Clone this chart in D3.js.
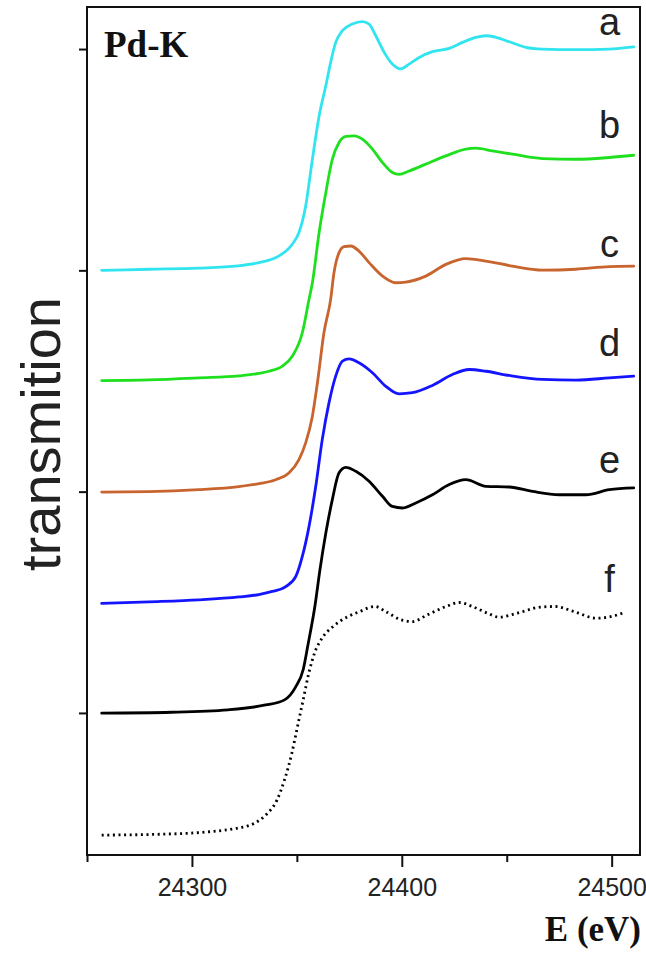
<!DOCTYPE html>
<html>
<head>
<meta charset="utf-8">
<script src="https://cdn.jsdelivr.net/npm/d3@7/dist/d3.min.js"></script>
<style>
  html, body { margin: 0; padding: 0; background: #fff; }
  svg { display: block; }
</style>
</head>
<body>
<svg id="chart" width="646" height="953"></svg>
<script>
// ---------------- DATA ----------------
const seriesNames = ["a", "b", "c", "d", "e", "f"];
const xMajorTicks = [24300, 24400, 24500];
const xMinorTicks = [24250, 24350, 24450];
const yTicks = [1, 2, 3, 4];

const energyA = [24257, 24280, 24303, 24322, 24332, 24341.5, 24347.8, 24351, 24354.2, 24357.4, 24360.6, 24363.8, 24366.1, 24368.5, 24371.7, 24376.4, 24381.2, 24384.4, 24387.6, 24391.6, 24395.5, 24399.5, 24403.5, 24408.3, 24414.6, 24422.6, 24428.9, 24435.3, 24440.1, 24444.8, 24451.2, 24459.1, 24467, 24483, 24498.9, 24510.5];
const valuesA = [3.000, 3.005, 3.010, 3.020, 3.035, 3.065, 3.118, 3.171, 3.291, 3.502, 3.698, 3.834, 3.940, 4.030, 4.083, 4.113, 4.124, 4.113, 4.060, 3.985, 3.932, 3.910, 3.932, 3.962, 3.988, 4.003, 4.030, 4.053, 4.060, 4.053, 4.033, 4.008, 4.000, 3.997, 4.000, 4.010];

const energyB = [24257, 24279.5, 24303.3, 24322.4, 24331.9, 24336.7, 24343.1, 24347.8, 24352.6, 24355.8, 24357.4, 24360.6, 24363.8, 24366.9, 24370.1, 24373.3, 24377.3, 24381.2, 24386, 24390.8, 24395.5, 24398.7, 24403.5, 24411.4, 24421, 24430.5, 24435.3, 24443.2, 24452.7, 24467, 24483, 24498.9, 24510.5];
const valuesB = [2.502, 2.505, 2.514, 2.523, 2.534, 2.544, 2.567, 2.612, 2.718, 2.869, 2.944, 3.171, 3.352, 3.502, 3.578, 3.605, 3.608, 3.593, 3.548, 3.487, 3.442, 3.434, 3.449, 3.480, 3.517, 3.548, 3.552, 3.540, 3.525, 3.505, 3.502, 3.510, 3.520];

const energyC = [24257, 24279.5, 24303.3, 24322.4, 24331.9, 24339.9, 24346.3, 24351, 24354.2, 24357.4, 24359.8, 24362.9, 24366.1, 24367.7, 24370.1, 24372.5, 24375.7, 24379.6, 24384.4, 24390.8, 24397.1, 24401.9, 24411.4, 24421, 24430.5, 24440.1, 24452.7, 24467, 24483, 24498.9, 24510.5];
const valuesC = [1.998, 2.000, 2.009, 2.023, 2.036, 2.054, 2.085, 2.145, 2.220, 2.341, 2.492, 2.718, 2.869, 2.990, 3.080, 3.107, 3.110, 3.087, 3.035, 2.974, 2.944, 2.947, 2.974, 3.027, 3.053, 3.042, 3.019, 3.001, 3.005, 3.017, 3.019];

const energyD = [24257, 24279.5, 24303.3, 24322.4, 24331.9, 24338.3, 24344.7, 24349.5, 24352.6, 24355.8, 24359, 24362.1, 24365.3, 24368.5, 24371.7, 24374.9, 24379.6, 24386, 24392.4, 24398.7, 24405.1, 24414.6, 24424.1, 24432.1, 24440.1, 24451.2, 24467, 24483, 24498.9, 24510.5];
const valuesD = [1.495, 1.502, 1.511, 1.524, 1.535, 1.549, 1.571, 1.617, 1.707, 1.843, 2.024, 2.235, 2.401, 2.522, 2.590, 2.600, 2.582, 2.537, 2.476, 2.442, 2.447, 2.480, 2.529, 2.552, 2.544, 2.525, 2.507, 2.504, 2.514, 2.522];

const energyE = [24257, 24290.3, 24317.2, 24335.1, 24344.1, 24349.5, 24353, 24355.3, 24358.7, 24361, 24363.8, 24366.9, 24370.1, 24373.3, 24378.1, 24384.4, 24390.8, 24395.5, 24400.3, 24406.7, 24414.6, 24422.6, 24430.5, 24440.1, 24451.2, 24462.3, 24475, 24487.7, 24498.9, 24510.5];
const valuesE = [0.999, 1.003, 1.014, 1.036, 1.059, 1.119, 1.195, 1.308, 1.489, 1.647, 1.813, 1.964, 2.085, 2.110, 2.092, 2.047, 1.979, 1.933, 1.926, 1.949, 1.986, 2.032, 2.054, 2.024, 2.021, 2.001, 1.986, 1.986, 2.009, 2.017];

const energyF = [24257, 24281.4, 24308.2, 24320.8, 24329.7, 24335.1, 24340.5, 24344.1, 24347.6, 24350.3, 24353, 24355.7, 24358.4, 24362, 24367.3, 24374.5, 24379.9, 24387.1, 24392.4, 24399.6, 24405, 24412.1, 24421.1, 24427.4, 24433.6, 24440.8, 24446.2, 24455.1, 24465.9, 24473.1, 24482, 24492.8, 24500, 24505.3];
const valuesF = [0.448, 0.451, 0.463, 0.478, 0.501, 0.538, 0.606, 0.697, 0.818, 0.938, 1.059, 1.180, 1.270, 1.338, 1.391, 1.436, 1.458, 1.481, 1.458, 1.421, 1.413, 1.443, 1.481, 1.499, 1.481, 1.451, 1.433, 1.451, 1.478, 1.481, 1.458, 1.428, 1.436, 1.451];

// ---------------- LAYOUT / STYLE ----------------
const W = 646, H = 953;
const plot = { left: 87, right: 640, top: 7, bottom: 855 };
const colors = ["#30e4f0", "#1ee01e", "#c8642e", "#1414ff", "#000000", "#000000"];
const labelOffsets = [12, 17, 9, 20, 15, 21];  // px above last point

const svg = d3.select("#chart");

const x = d3.scaleLinear().domain([24250, 24513.5]).range([plot.left, plot.right]);
const y = d3.scaleLinear().domain([0.358, 4.19]).range([plot.bottom, plot.top]);

const energies = [energyA, energyB, energyC, energyD, energyE, energyF];
const values = [valuesA, valuesB, valuesC, valuesD, valuesE, valuesF];
const series = seriesNames.map((n, i) => ({
  name: n,
  color: colors[i],
  points: energies[i].map((e, j) => ({ e: e, v: values[i][j] }))
}));

const line = d3.line()
  .x(d => x(d.e))
  .y(d => y(d.v))
  .curve(d3.curveMonotoneX);

// curves
svg.append("g")
  .selectAll("path")
  .data(series)
  .join("path")
  .attr("d", d => line(d.points))
  .attr("fill", "none")
  .attr("stroke", d => d.color)
  .attr("stroke-width", (d, i) => i === 5 ? 2.8 : 2.8)
  .attr("stroke-dasharray", (d, i) => i === 5 ? "2,3.6" : null)
  .attr("stroke-linejoin", "round")
  .attr("stroke-linecap", (d, i) => i === 5 ? "butt" : "round");

// series labels
svg.append("g")
  .selectAll("text")
  .data(series)
  .join("text")
  .attr("x", d => x(24499))
  .attr("y", (d, i) => y(d.points[d.points.length - 1].v) - labelOffsets[i])
  .attr("text-anchor", "middle")
  .attr("font-family", "'Liberation Sans', Arial, sans-serif")
  .attr("font-size", 38)
  .attr("fill", "#222")
  .text(d => d.name);

// x axis (major with labels)
const xMajor = svg.append("g")
  .attr("transform", `translate(0,${plot.bottom})`)
  .call(d3.axisBottom(x).tickValues(xMajorTicks).tickSize(12).tickPadding(11).tickFormat(d3.format("d")));
xMajor.select(".domain").remove();
xMajor.selectAll("line").attr("stroke", "#111").attr("stroke-width", 2);
xMajor.selectAll("text")
  .attr("font-family", "'Liberation Sans', Arial, sans-serif")
  .attr("font-size", 25)
  .attr("fill", "#222");

// x axis minor
const xMinor = svg.append("g")
  .attr("transform", `translate(0,${plot.bottom})`)
  .call(d3.axisBottom(x).tickValues(xMinorTicks).tickSize(7).tickFormat(""));
xMinor.select(".domain").remove();
xMinor.selectAll("line").attr("stroke", "#111").attr("stroke-width", 2);

// y axis ticks (no labels)
const yAx = svg.append("g")
  .attr("transform", `translate(${plot.left},0)`)
  .call(d3.axisLeft(y).tickValues(yTicks).tickSize(8).tickFormat(""));
yAx.select(".domain").remove();
yAx.selectAll("line").attr("stroke", "#111").attr("stroke-width", 2);

// frame
svg.append("rect")
  .attr("x", plot.left).attr("y", plot.top)
  .attr("width", plot.right - plot.left).attr("height", plot.bottom - plot.top)
  .attr("fill", "none").attr("stroke", "#111").attr("stroke-width", 2);

// Pd-K
svg.append("text")
  .attr("x", 104).attr("y", 57)
  .attr("font-family", "'Liberation Serif', 'Times New Roman', serif")
  .attr("font-weight", "bold")
  .attr("font-size", 37)
  .attr("fill", "#111")
  .text("Pd-K");

// x axis title
svg.append("text")
  .attr("x", 641).attr("y", 941)
  .attr("text-anchor", "end")
  .attr("font-family", "'Liberation Serif', 'Times New Roman', serif")
  .attr("font-weight", "bold")
  .attr("font-size", 35)
  .attr("fill", "#111")
  .text("E (eV)");

// y axis title
svg.append("text")
  .attr("transform", "translate(60,434) rotate(-90)")
  .attr("text-anchor", "middle")
  .attr("font-family", "'Liberation Sans', Arial, sans-serif")
  .attr("font-size", 56)
  .attr("fill", "#222")
  .text("transmition");
</script>
</body>
</html>
